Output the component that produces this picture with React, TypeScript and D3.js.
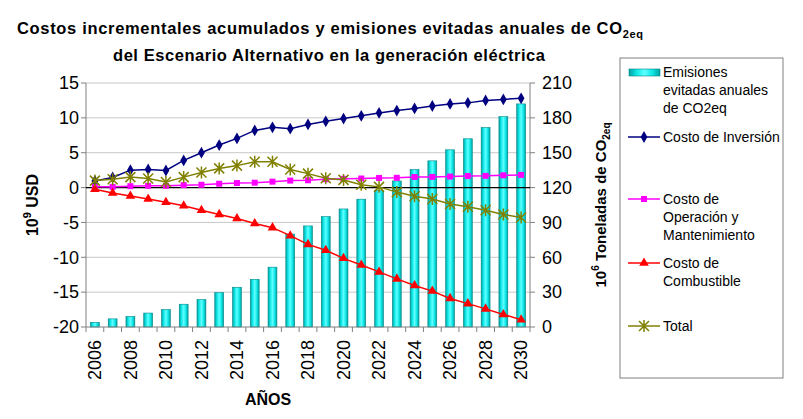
import React from "react";
import * as d3 from "d3";

// años del escenario
const years = [
  "2006", "2007", "2008", "2009", "2010", "2011", "2012", "2013", "2014",
  "2015", "2016", "2017", "2018", "2019", "2020", "2021", "2022", "2023",
  "2024", "2025", "2026", "2027", "2028", "2029", "2030",
];

// 10^6 t CO2eq (eje derecho)
const emisiones = [
  4, 7, 9, 12, 15, 19.6, 23.6, 29.6, 34.2, 41, 51.5, 80, 87, 95, 101.6, 110,
  117.4, 125.7, 135.5, 143, 152.5, 162, 171.7, 181, 192,
];

// 10^9 USD (eje izquierdo)
const inversion = [
  0.95, 1.45, 2.5, 2.6, 2.45, 3.9, 5.0, 6.1, 7.05, 8.2, 8.65, 8.45, 9.05, 9.5,
  9.9, 10.3, 10.7, 11.05, 11.35, 11.7, 12.0, 12.15, 12.5, 12.65, 12.8,
];
const operacion = [
  0.1, 0.1, 0.2, 0.25, 0.25, 0.35, 0.4, 0.55, 0.65, 0.7, 0.85, 1.0, 1.05, 1.2,
  1.25, 1.3, 1.38, 1.4, 1.52, 1.53, 1.58, 1.66, 1.68, 1.76, 1.82,
];
const combustible = [
  -0.25, -0.77, -1.2, -1.63, -2.1, -2.6, -3.25, -3.85, -4.45, -5.15, -5.75,
  -6.9, -8.15, -9.0, -10.15, -11.1, -12.1, -13.1, -14.05, -14.85, -15.9,
  -16.65, -17.4, -18.2, -18.95,
];
const total = [
  1.0, 1.2, 1.5, 1.3, 0.8, 1.5, 2.15, 2.75, 3.15, 3.7, 3.7, 2.6, 2.0, 1.35,
  1.1, 0.4, 0.1, -0.65, -1.25, -1.65, -2.35, -2.75, -3.25, -3.85, -4.3,
];

const leftTicks = [-20, -15, -10, -5, 0, 5, 10, 15];
const rightTicks = [0, 30, 60, 90, 120, 150, 180, 210];

const FONT = "Liberation Sans, Arial, sans-serif";

type Marker = "diamond" | "square" | "triangle" | "star";

const markerPath = (m: Marker) => {
  if (m === "diamond") return d3.symbol(d3.symbolDiamond, 40)()!;
  if (m === "square") return d3.symbol(d3.symbolSquare, 36)()!;
  if (m === "triangle") return d3.symbol(d3.symbolTriangle, 40)()!;
  return "M-5,-5L5,5M-5,5L5,-5M0,-6L0,6";
};

const series: { name: string; values: number[]; color: string; marker: Marker }[] = [
  { name: "inv", values: inversion, color: "#000080", marker: "diamond" },
  { name: "om", values: operacion, color: "#ff00ff", marker: "square" },
  { name: "comb", values: combustible, color: "#ff0000", marker: "triangle" },
  { name: "tot", values: total, color: "#808000", marker: "star" },
];

const Mark = ({ m, color, x, y }: { m: Marker; color: string; x: number; y: number }) =>
  m === "star" ? (
    <path d={markerPath(m)} transform={`translate(${x},${y})`} stroke={color} strokeWidth={1.5} fill="none" />
  ) : (
    <path d={markerPath(m)} transform={`translate(${x},${y})`} fill={color} />
  );

export default function App() {
  const width = 803;
  const height = 419;
  const left = 86;
  const right = 530;
  const top = 83;
  const bottom = 327;

  const x = d3.scaleBand<string>().domain(years).range([left, right]);
  const yL = d3.scaleLinear().domain([-20, 15]).range([bottom, top]);
  const yR = d3.scaleLinear().domain([0, 210]).range([bottom, top]);
  const bw = x.bandwidth() * 0.5;
  const cx = (d: string) => x(d)! + x.bandwidth() / 2;

  const line = d3
    .line<number>()
    .x((_, i) => cx(years[i]))
    .y((v) => yL(v));

  return (
    <svg
      width={width}
      height={height}
      style={{ position: "absolute", left: 0, top: 0, background: "#fff" }}
      fontFamily={FONT}
    >
      <defs>
        <linearGradient id="barGrad" x1="0" x2="1" y1="0" y2="0">
          <stop offset="0" stopColor="#00a0a0" />
          <stop offset="0.25" stopColor="#10e8e8" />
          <stop offset="0.5" stopColor="#60ffff" />
          <stop offset="0.75" stopColor="#10e8e8" />
          <stop offset="1" stopColor="#00a0a0" />
        </linearGradient>
      </defs>

      {/* título */}
      <text x={330} y={34} textAnchor="middle" fontWeight="bold" fontSize={16.5} textLength={626} lengthAdjust="spacing">
        Costos incrementales acumulados y emisiones evitadas anuales de CO
        <tspan fontSize={11} dy={4}>2eq</tspan>
      </text>
      <text x={329} y={61} textAnchor="middle" fontWeight="bold" fontSize={16.5} textLength={432} lengthAdjust="spacing">
        del Escenario Alternativo en la generación eléctrica
      </text>

      {/* grilla */}
      {leftTicks.filter((t) => t !== 0 && t !== -20).map((t) => (
        <line key={t} x1={left} x2={right} y1={yL(t)} y2={yL(t)} stroke="#c8c8c8" strokeWidth={1} />
      ))}

      {/* barras */}
      {emisiones.map((v, i) => (
        <rect
          key={years[i]}
          x={cx(years[i]) - bw / 2}
          y={yR(v)}
          width={bw}
          height={yR(0) - yR(v)}
          fill="url(#barGrad)"
          stroke="#008888"
          strokeWidth={0.6}
        />
      ))}

      {/* ejes */}
      <line x1={left} x2={left} y1={top} y2={bottom} stroke="#808080" />
      <line x1={right} x2={right} y1={top} y2={bottom} stroke="#808080" />
      <line x1={left} x2={right} y1={bottom} y2={bottom} stroke="#808080" />
      <line x1={left} x2={right} y1={yL(0)} y2={yL(0)} stroke="#000" strokeWidth={1.2} />

      {leftTicks.map((t) => (
        <g key={t}>
          <line x1={left - 5} x2={left} y1={yL(t)} y2={yL(t)} stroke="#808080" />
          <text x={left - 7} y={yL(t)} dy="0.35em" textAnchor="end" fontSize={18}>
            {t}
          </text>
        </g>
      ))}
      {rightTicks.map((t) => (
        <g key={t}>
          <line x1={right} x2={right + 5} y1={yR(t)} y2={yR(t)} stroke="#808080" />
          <text x={right + 12} y={yR(t)} dy="0.35em" textAnchor="start" fontSize={18}>
            {t}
          </text>
        </g>
      ))}
      {years.map((d) => (
        <line key={d} x1={x(d)!} x2={x(d)!} y1={bottom} y2={bottom + 5} stroke="#808080" />
      ))}
      <line x1={right} x2={right} y1={bottom} y2={bottom + 5} stroke="#808080" />
      {years.filter((_, i) => i % 2 === 0).map((d) => (
        <text
          key={d}
          transform={`translate(${cx(d)},${bottom + 13}) rotate(-90)`}
          dy="0.35em"
          textAnchor="end"
          fontSize={18}
        >
          {d}
        </text>
      ))}

      {/* títulos de ejes */}
      <text x={268} y={405} textAnchor="middle" fontWeight="bold" fontSize={16}>
        AÑOS
      </text>
      <text transform={`translate(38,${(top + bottom) / 2}) rotate(-90)`} textAnchor="middle" fontWeight="bold" fontSize={16}>
        10<tspan fontSize={11} dy={-7}>9</tspan>
        <tspan dy={7}> USD</tspan>
      </text>
      <text transform={`translate(606,${(top + bottom) / 2}) rotate(-90)`} textAnchor="middle" fontWeight="bold" fontSize={15}>
        10<tspan fontSize={10} dy={-7}>6</tspan>
        <tspan dy={7}> Toneladas de CO</tspan>
        <tspan fontSize={10} dy={4}>2eq</tspan>
      </text>

      {/* series de líneas */}
      {series.map((s) => (
        <g key={s.name}>
          <path d={line(s.values)!} fill="none" stroke={s.color} strokeWidth={1.5} />
          {s.values.map((v, i) => (
            <Mark key={i} m={s.marker} color={s.color} x={cx(years[i])} y={yL(v)} />
          ))}
        </g>
      ))}

      {/* leyenda */}
      <g fontSize={14}>
        <rect x={620} y={58} width={163} height={320} fill="#fff" stroke="#808080" />
        <rect x={629} y={69} width={31} height={7} fill="url(#barGrad)" stroke="#008888" strokeWidth={0.6} />
        <text x={663} y={77}>Emisiones</text>
        <text x={663} y={95}>evitadas anuales</text>
        <text x={663} y={113}>de CO2eq</text>

        <line x1={628} x2={660} y1={137} y2={137} stroke="#000080" strokeWidth={1.5} />
        <Mark m="diamond" color="#000080" x={644} y={137} />
        <text x={663} y={142}>Costo de Inversión</text>

        <line x1={628} x2={660} y1={199} y2={199} stroke="#ff00ff" strokeWidth={1.5} />
        <Mark m="square" color="#ff00ff" x={644} y={199} />
        <text x={663} y={204}>Costo de</text>
        <text x={663} y={222}>Operación y</text>
        <text x={663} y={240}>Mantenimiento</text>

        <line x1={628} x2={660} y1={263} y2={263} stroke="#ff0000" strokeWidth={1.5} />
        <Mark m="triangle" color="#ff0000" x={644} y={263} />
        <text x={663} y={268}>Costo de</text>
        <text x={663} y={286}>Combustible</text>

        <line x1={628} x2={660} y1={326} y2={326} stroke="#808000" strokeWidth={1.5} />
        <Mark m="star" color="#808000" x={644} y={326} />
        <text x={663} y={331}>Total</text>
      </g>
    </svg>
  );
}
